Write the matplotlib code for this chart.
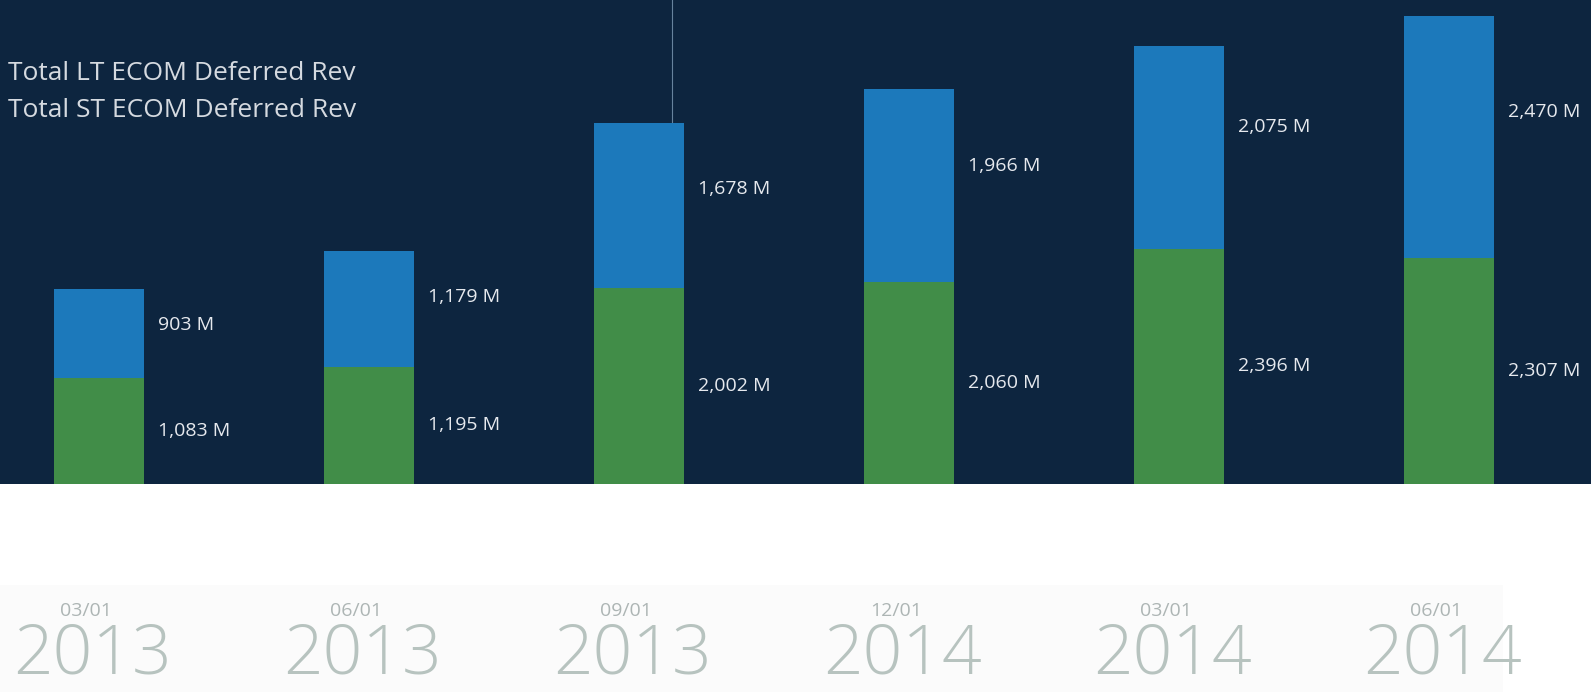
import matplotlib.pyplot as plt
from matplotlib.patches import Rectangle

# data
months = ["03/01", "06/01", "09/01", "12/01", "03/01", "06/01"]
years = ["2013", "2013", "2013", "2014", "2014", "2014"]
st_rev = [1083, 1195, 2002, 2060, 2396, 2307]   # green, bottom
lt_rev = [903, 1179, 1678, 1966, 2075, 2470]    # blue, top
series_names = ["Total LT ECOM Deferred Rev", "Total ST ECOM Deferred Rev"]

navy = "#0d253f"
blue = "#1c79bb"
green = "#418d48"
label_col = "#e6e9ee"

plt.rcParams["font.family"] = ["Open Sans", "DejaVu Sans"]

fig = plt.figure(figsize=(15.91, 6.92), dpi=100)
fig.patch.set_facecolor("white")

# faint panel behind the dates
fig.patches.append(Rectangle((0, 0), 0.945, 0.155, transform=fig.transFigure,
                             facecolor="#fbfbfb", edgecolor="none", zorder=0))

ax = fig.add_axes([0, 0.301, 1, 0.699])
ax.set_facecolor(navy)

x = list(range(len(st_rev)))
w = 1 / 3
ax.bar(x, st_rev, width=w, color=green, zorder=2)
ax.bar(x, lt_rev, width=w, bottom=st_rev, color=blue, zorder=2)

for i in x:
    g, b = st_rev[i], lt_rev[i]
    ax.text(i + 0.22, g / 2, f"{g:,} M", color=label_col, fontsize=14,
            ha="left", va="center")
    ax.text(i + 0.22, g + b * 0.6, f"{b:,} M", color=label_col, fontsize=14,
            ha="left", va="center")

# thin stray line above the third bar
ax.vlines(2.122, st_rev[2] + lt_rev[2], 5000, color="#7f9bb5", lw=0.8,
          alpha=0.8, zorder=1)

ax.set_xlim(-99 / 270, 1492 / 270)
ax.set_ylim(0, 4937)
ax.set_xticks([])
ax.set_yticks([])
for s in ax.spines.values():
    s.set_visible(False)

# legend text (no swatches)
for k, name in enumerate(series_names):
    ax.text(0.005, 0.849 - k * 0.077, name, transform=ax.transAxes,
            color="#d5dae0", fontsize=19, ha="left", va="center")

# date labels under each bar
for i in x:
    xf = (99 + 270 * i) / 1591
    fig.text(xf - 0.008, 1 - 611 / 692, months[i], color="#adb5b4",
             fontsize=14, ha="center", va="center")
    fig.text(xf - 0.004, 1 - 655 / 692, years[i], color="#b7c3bf",
             fontsize=50, ha="center", va="center", fontweight="light")

fig.savefig("out.png", dpi=100)
